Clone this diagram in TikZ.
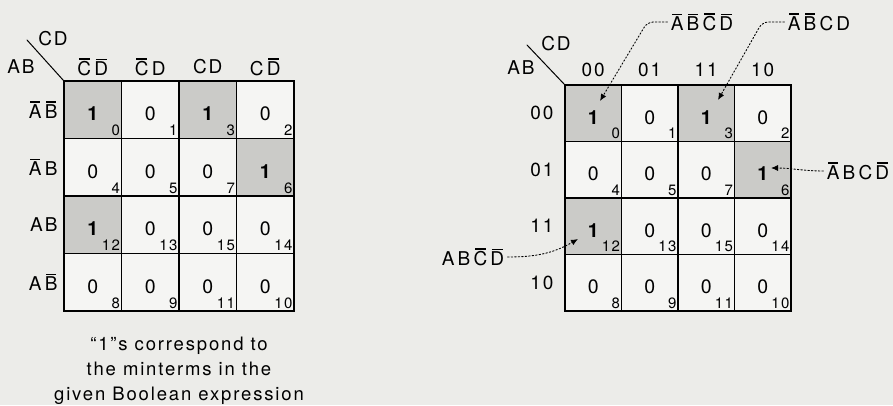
\documentclass[tikz,border=0pt]{standalone}
\usepackage{fontspec}
\usetikzlibrary{arrows.meta}
\setmainfont{TeX Gyre Heros}[LetterSpace=10]
\newcommand\ov[1]{\setbox0\hbox{#1}\rlap{\hbox to\wd0{\hss
 \rule[1.12\ht0]{.78\wd0}{1.3pt}\hss}}\box0}
\definecolor{pagebg}{RGB}{236,236,233}
\definecolor{cellbg}{RGB}{245,245,243}
\definecolor{onebg}{RGB}{203,203,200}
\tikzset{
 cellbox/.style={draw,line width=1.3pt,inner sep=0pt,fill=cellbg},
 val/.style={font=\fontsize{19.5}{21}\selectfont},
 idx/.style={font=\fontsize{15}{16}\selectfont,anchor=south east,inner sep=1pt},
 lbl/.style={font=\fontsize{19}{25}\selectfont},
 note/.style={->,dash pattern=on 1.5pt off 2pt,line width=.9pt},
}
\begin{document}
\begin{tikzpicture}[x=1pt,y=1pt,>={Latex[length=7pt,width=6pt]},line cap=round]
 \fill[pagebg] (0,0) rectangle (893,405);
 \useasboundingbox (0,0) rectangle (893,405);
 % the two maps
 \foreach \ox/\oy/\cs/\nm in {64/324/57.5/L,565/320/56.5/R}{
  \begin{scope}[shift={(\ox,\oy)}]
   \foreach \r/\rv in {0/0,1/4,2/12,3/8}{
    \foreach \c/\cv in {0/0,1/1,2/3,3/2}{
     \pgfmathtruncatemacro\m{\rv+\cv}
     \pgfmathtruncatemacro\one{(\m==0)+(\m==3)+(\m==6)+(\m==12)}
     \ifnum\one=1
      \node[cellbox,fill=onebg,minimum size=\cs pt] (\nm-\m)
       at ({(\c+.5)*\cs},{-(\r+.5)*\cs}) {};
      \node[val] (\nm v\m) at ([yshift=-4pt]\nm-\m.center) {\bfseries 1};
     \else
      \node[cellbox,minimum size=\cs pt] (\nm-\m)
       at ({(\c+.5)*\cs},{-(\r+.5)*\cs}) {};
      \node[val] (\nm v\m) at ([yshift=-4pt]\nm-\m.center) {0};
     \fi
     \node[idx] (\nm i\m) at ([shift={(-1pt,2pt)}]\nm-\m.south east) {\m};
    }
   }
   \draw[line width=2.6pt] (0,0) rectangle (4*\cs,-4*\cs);
  \end{scope}
 }
 % left map labels
 \foreach \t [count=\i from 0] in {\ov{C}\,\ov{D},\ov{C}\,D,CD,C\,\ov{D}}
  \node[lbl] (Lc\i) at ({64+(\i+.5)*57.5},338) {\t};
 \foreach \t [count=\i from 0] in {\ov{A}\,\ov{B},\ov{A}\,B,AB,A\,\ov{B}}
  \node[lbl,anchor=east] (Lr\i) at (61,{324-(\i+.5)*57.5}) {\t};
 \node[lbl] (Lcd) at (53,366) {CD};
 \node[lbl] (Lab) at (21,338) {AB};
 \coordinate (Lk) at (27,365);
 \draw[line width=1pt] (Lk) -- (L-0.north west);
 \node[lbl,align=center,anchor=north,font=\fontsize{18.5}{25}\selectfont]
  (cap) at (179,72)
  {``1''s correspond to\\the minterms in the\\given Boolean expression};
 % right map labels
 \foreach \t [count=\i from 0] in {00,01,11,10}{
  \node[lbl] (Rc\i) at ({565+(\i+.5)*56.5},335) {\t};
  \node[lbl,anchor=east] (Rr\i) at (557,{320-(\i+.5)*56.5}) {\t};
 }
 \node[lbl] (Rcd) at (556,361) {CD};
 \node[lbl] (Rab) at (521,337) {AB};
 \coordinate (Rk) at (527,360);
 \draw[line width=1pt] (Rk) -- (R-0.north west);
 % minterm notes
 \node[lbl] (t0) at (702,383) {\ov{A}\,\ov{B}\,\ov{C}\,\ov{D}};
 \node[lbl] (t3) at (819,383) {\ov{A}\,\ov{B}\,C\,D};
 \node[lbl] (t6) at (858,234) {\ov{A}\,B\,C\,\ov{D}};
 \node[lbl] (t12) at (473,148) {A\,B\,\ov{C}\,\ov{D}};
 \coordinate (a0) at (600,304);
 \coordinate (a3) at (718,305);
 \coordinate (a6) at (771,237);
 \coordinate (a12) at (578,166);
 \draw[note,rounded corners=6pt] (t0.west) -- ++(-20,0) -- (a0);
 \draw[note,rounded corners=6pt] (t3.west) -- ++(-22,0) -- (a3);
 \draw[note] (t6.west) to[out=180,in=0] (a6);
 \draw[note] (t12.east) to[out=0,in=210] (a12);
\end{tikzpicture}
\end{document}
